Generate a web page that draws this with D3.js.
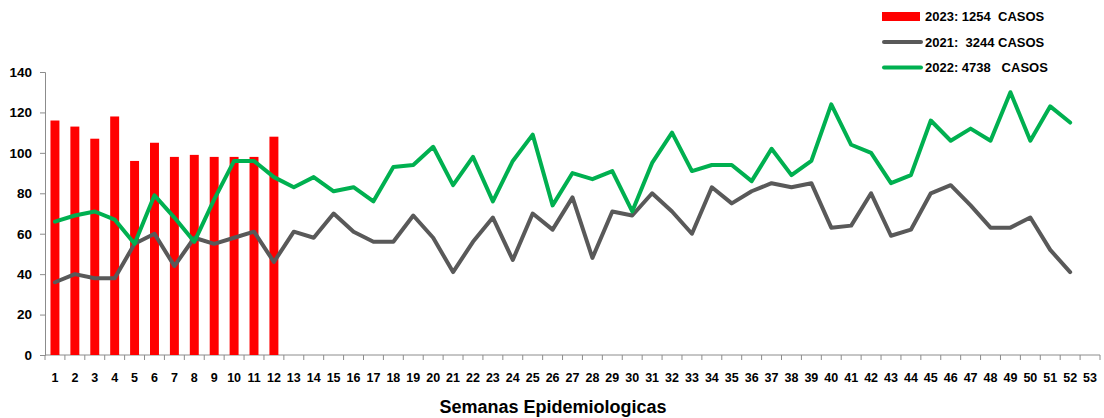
<!DOCTYPE html>
<html>
<head>
<meta charset="utf-8">
<script src="https://cdn.jsdelivr.net/npm/d3@7"></script>
<style>
  html, body { margin: 0; padding: 0; background: #fff; }
  svg { display: block; }
  text { font-family: "Liberation Sans", Arial, sans-serif; font-weight: bold; fill: #000; }
</style>
</head>
<body>
<svg id="chart" width="1104" height="418"></svg>
<script>
// ---- Data ----
const weeks = d3.range(1, 54).map(String);
const cases2023 = [116, 113, 107, 118, 96, 105, 98, 99, 98, 98, 98, 108];
const cases2021 = [36, 40, 38, 38, 55, 60, 44, 58, 55, 58, 61, 46,
  61, 58, 70, 61, 56, 56, 69, 58, 41, 56, 68, 47, 70, 62,
  78, 48, 71, 69, 80, 71, 60, 83, 75, 81, 85, 83, 85,
  63, 64, 80, 59, 62, 80, 84, 74, 63, 63, 68, 52, 41];
const cases2022 = [66, 69, 71, 67, 55, 79, 68, 56, 77, 96, 96, 88,
  83, 88, 81, 83, 76, 93, 94, 103, 84, 98, 76, 96, 109, 74,
  90, 87, 91, 71, 95, 110, 91, 94, 94, 86, 102, 89, 96,
  124, 104, 100, 85, 89, 116, 106, 112, 106, 130, 106, 123, 115];
const yTicks = [0, 20, 40, 60, 80, 100, 120, 140];
const legendLabels = ["2023: 1254  CASOS", "2021:  3244 CASOS", "2022: 4738   CASOS"];
const xTitle = "Semanas Epidemiologicas";

// ---- Layout ----
const svg = d3.select("#chart");
const mLeft = 45, mRight = 1100, mTop = 72, mBottom = 355;

const x = d3.scaleBand().domain(weeks).range([mLeft, mRight]).paddingInner(0.55).paddingOuter(0.275);
const xLine = d3.scaleBand().domain(weeks).range([mLeft, mRight]);
const y = d3.scaleLinear().domain([0, 140]).range([mBottom, mTop]);

const axisColor = "#8c8c8c";

// Y axis
const yAxis = svg.append("g").attr("transform", `translate(${mLeft},0)`)
  .call(d3.axisLeft(y).tickValues(yTicks).tickSize(5).tickPadding(8));
yAxis.select(".domain").attr("stroke", axisColor);
yAxis.selectAll(".tick line").attr("stroke", axisColor);
yAxis.selectAll("text").style("font-size", "13.5px").style("font-family", "'Liberation Sans', Arial, sans-serif").style("font-weight", "bold").attr("fill", "#000");

// X axis
const xAxisG = svg.append("g").attr("transform", `translate(0,${mBottom})`);
xAxisG.append("line").attr("x1", mLeft).attr("x2", mRight).attr("y1", 0).attr("y2", 0).attr("stroke", axisColor);
xAxisG.selectAll("line.tk").data(d3.range(0, weeks.length + 1)).join("line")
  .attr("class", "tk")
  .attr("x1", i => mLeft + i * xLine.step()).attr("x2", i => mLeft + i * xLine.step())
  .attr("y1", 0).attr("y2", 5).attr("stroke", axisColor);
xAxisG.selectAll("text.lbl").data(weeks).join("text")
  .attr("class", "lbl")
  .attr("x", d => xLine(d) + xLine.bandwidth() / 2)
  .attr("y", 27)
  .attr("text-anchor", "middle")
  .style("font-size", "12.5px")
  .text(d => d);

// Bars 2023
svg.append("g").selectAll("rect").data(cases2023).join("rect")
  .attr("x", (d, i) => x(weeks[i]))
  .attr("width", x.bandwidth())
  .attr("y", d => y(d))
  .attr("height", d => y(0) - y(d))
  .attr("fill", "#ff0000");

// Lines
const line = d3.line()
  .x((d, i) => xLine(weeks[i]) + xLine.bandwidth() / 2)
  .y(d => y(d));

svg.append("path").datum(cases2021).attr("d", line)
  .attr("fill", "none").attr("stroke", "#595959").attr("stroke-width", 4)
  .attr("stroke-linejoin", "round").attr("stroke-linecap", "round");
svg.append("path").datum(cases2022).attr("d", line)
  .attr("fill", "none").attr("stroke", "#00b050").attr("stroke-width", 4)
  .attr("stroke-linejoin", "round").attr("stroke-linecap", "round");

// X title
svg.append("text").attr("x", 553).attr("y", 413).attr("text-anchor", "middle")
  .style("font-size", "18px").text(xTitle);

// Legend
const lg = svg.append("g");
lg.append("rect").attr("x", 882).attr("y", 12).attr("width", 38).attr("height", 9).attr("fill", "#ff0000");
lg.append("line").attr("x1", 884).attr("x2", 921).attr("y1", 42).attr("y2", 42)
  .attr("stroke", "#595959").attr("stroke-width", 4).attr("stroke-linecap", "round");
lg.append("line").attr("x1", 884).attr("x2", 921).attr("y1", 67.5).attr("y2", 67.5)
  .attr("stroke", "#00b050").attr("stroke-width", 4).attr("stroke-linecap", "round");
const ly = [16.5, 42, 67.5];
lg.selectAll("text").data(legendLabels).join("text")
  .attr("x", 925).attr("y", (d, i) => ly[i]).attr("dy", "0.35em")
  .style("font-size", "13px").style("white-space", "pre")
  .attr("xml:space", "preserve")
  .text(d => d);
</script>
</body>
</html>
